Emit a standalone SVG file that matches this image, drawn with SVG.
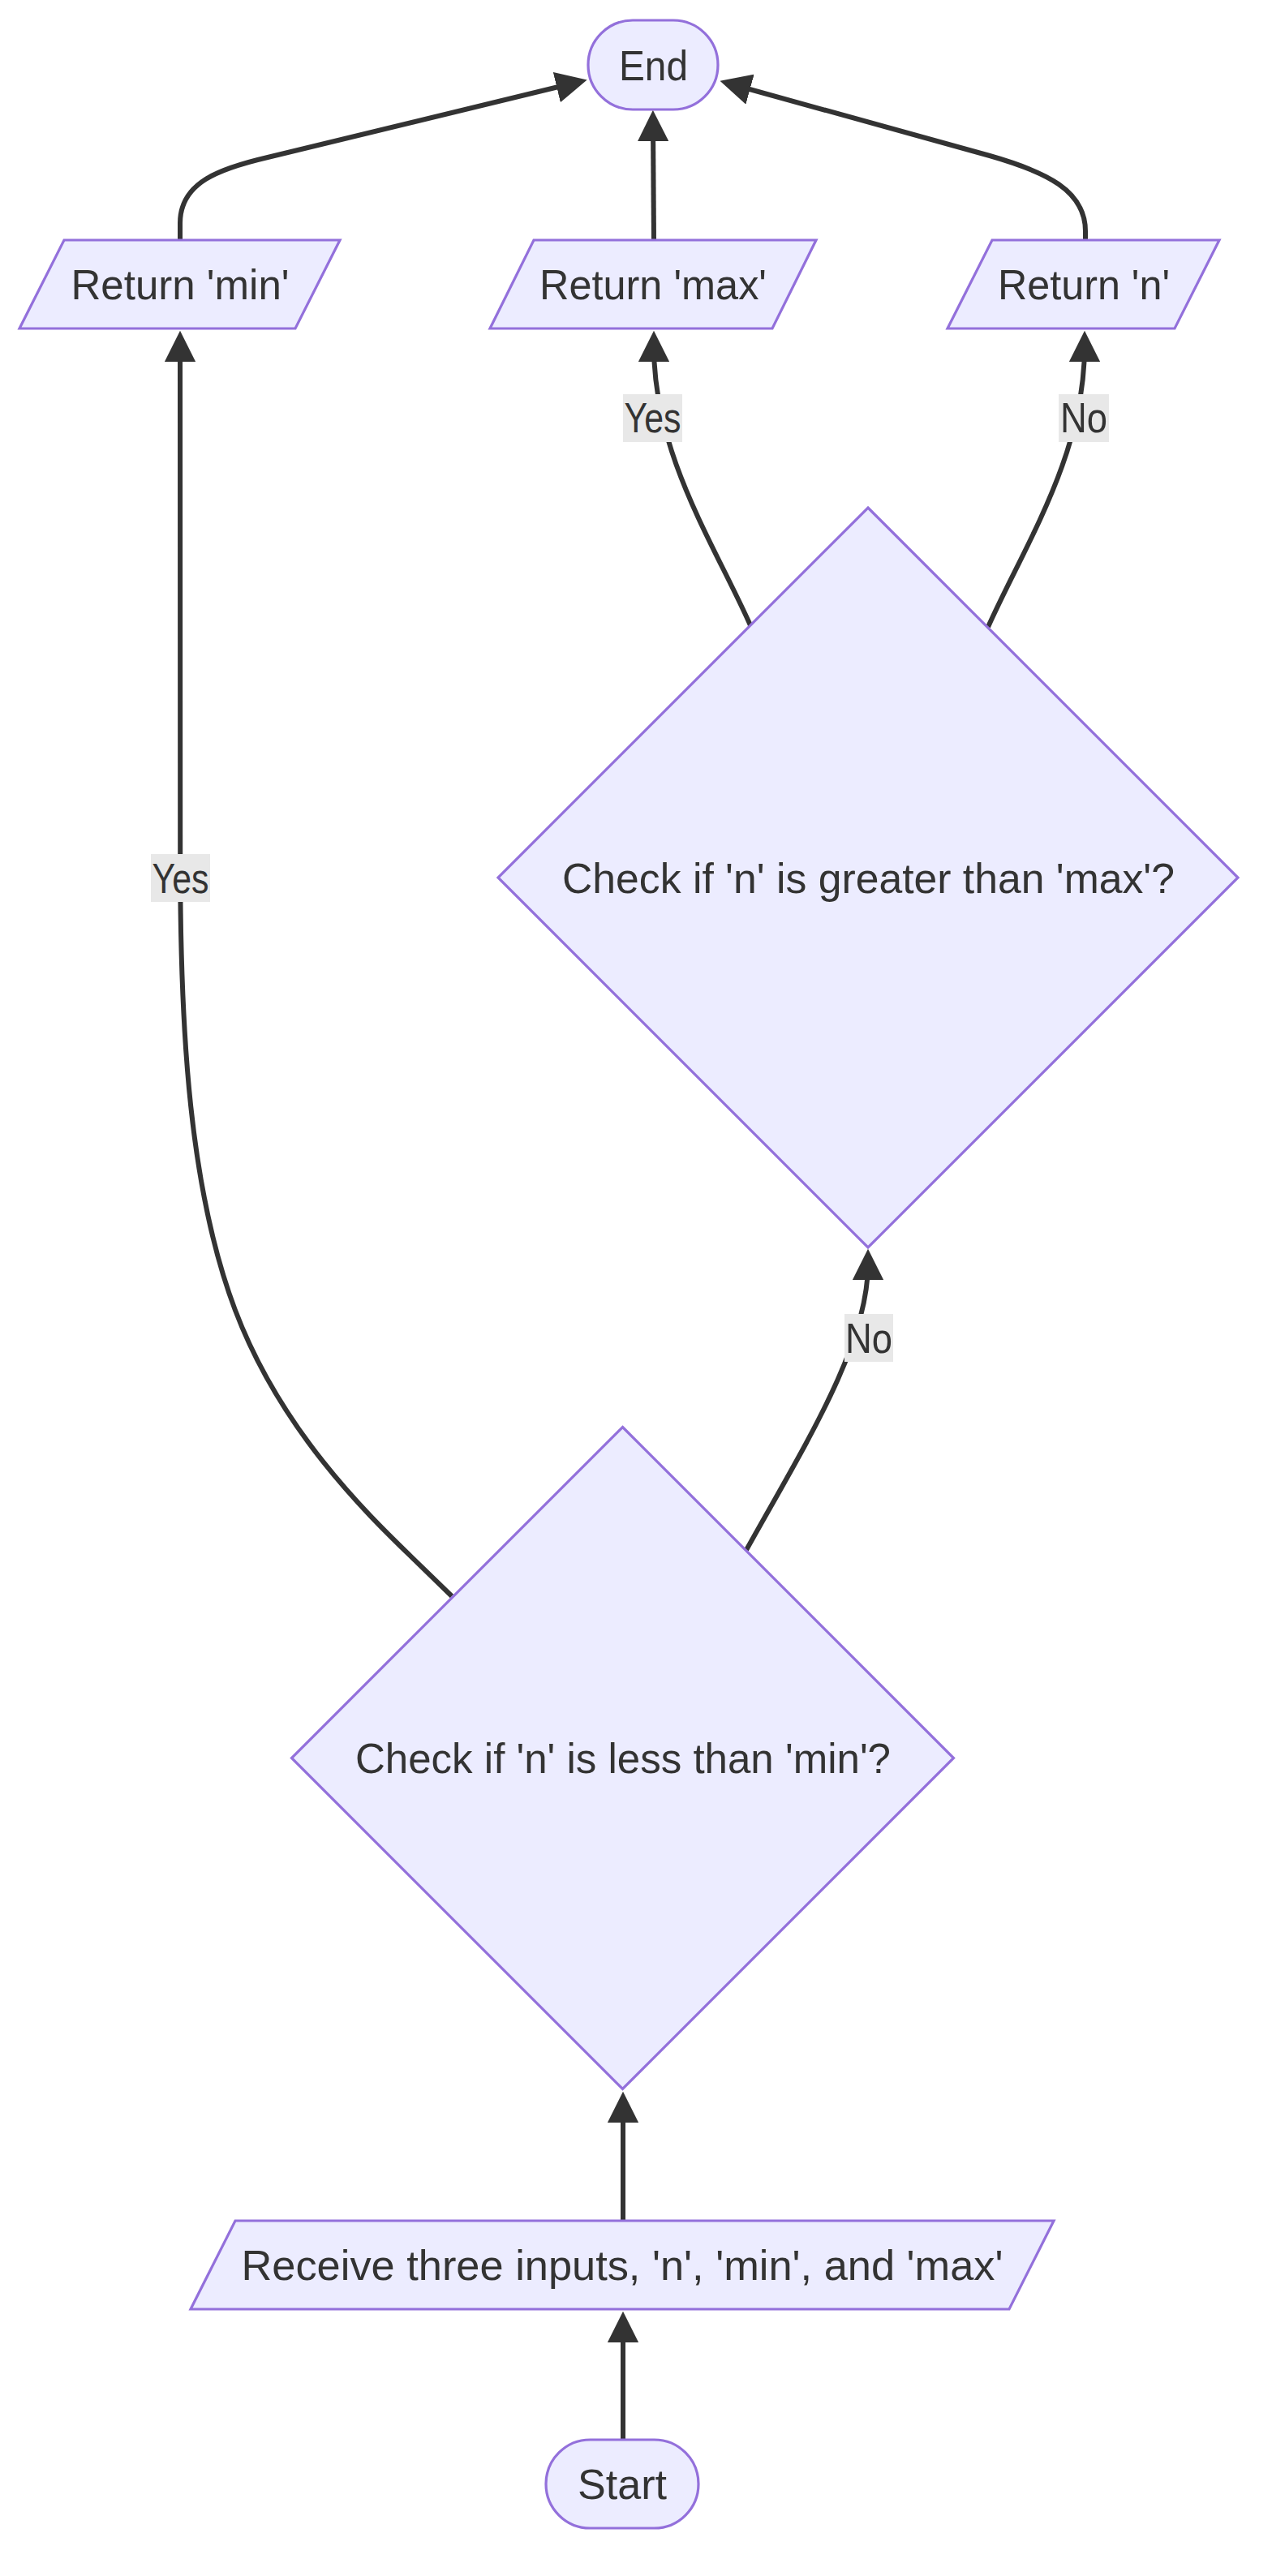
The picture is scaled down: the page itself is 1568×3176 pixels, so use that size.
<svg xmlns="http://www.w3.org/2000/svg" width="1568" height="3176" viewBox="0 0 1568 3176">
<style>
.node{fill:#ECECFF;stroke:#9370DB;stroke-width:3.2}
.edge{fill:none;stroke:#333333;stroke-width:6}
text{font-family:"Liberation Sans",Arial,sans-serif;font-size:51.2px;fill:#333333;text-anchor:middle}
.lbl{fill:#E8E8E8}
</style>
<defs>
<marker id="arrow" viewBox="0 0 10 10" refX="5" refY="5" markerWidth="38.4" markerHeight="38.4" markerUnits="userSpaceOnUse" orient="auto"><path d="M0,0 L10,5 L0,10 z" fill="#333333"/></marker>
</defs>
<rect x="0" y="0" width="1568" height="3176" fill="#FFFFFF"/>
<g id="connectors">
<path class="edge" marker-end="url(#arrow)" d="M768,3008 L768,2869"/>
<path class="edge" marker-end="url(#arrow)" d="M768,2738 L768,2598"/>
<path class="edge" marker-end="url(#arrow)" d="M557,1968 L504.2,1916.7 C451.3,1865.3 345.7,1762.7 289.8,1615 C234,1467.3 222.5,1274.7 222.2,1069 L222,427"/>
<path class="edge" marker-end="url(#arrow)" d="M920,1911 C990,1785 1070,1660 1070,1559"/>
<path class="edge" marker-end="url(#arrow)" d="M925,771 C880,670 806,560 806,427"/>
<path class="edge" marker-end="url(#arrow)" d="M1218,773 C1263,672 1337,562 1337,427"/>
<path class="edge" marker-end="url(#arrow)" d="M222,296 L222,275 C222,225 270,208 330,194 L705,103"/>
<path class="edge" marker-end="url(#arrow)" d="M806,296 L805,155"/>
<path class="edge" marker-end="url(#arrow)" d="M1338,296 L1338,285 C1338,235 1290,212 1220,192 L906,105"/>
<g id="label-yes-min"><rect class="lbl" x="186" y="1053" width="73" height="59"/><text x="222.5" y="1101" textLength="70" lengthAdjust="spacingAndGlyphs">Yes</text></g>
<g id="label-no-max"><rect class="lbl" x="1041" y="1620" width="60" height="59"/><text x="1071" y="1667.5" textLength="58" lengthAdjust="spacingAndGlyphs">No</text></g>
<g id="label-yes-max"><rect class="lbl" x="768" y="486" width="73" height="59"/><text x="804.5" y="533" textLength="70" lengthAdjust="spacingAndGlyphs">Yes</text></g>
<g id="label-no-n"><rect class="lbl" x="1305" y="486" width="62" height="59"/><text x="1336" y="533" textLength="58" lengthAdjust="spacingAndGlyphs">No</text></g>
</g>
<g id="start"><rect class="node" x="673" y="3008" width="188" height="109" rx="54.5" ry="54.5"/><text x="767" y="3081" textLength="110" lengthAdjust="spacingAndGlyphs">Start</text></g>
<g id="receive"><polygon class="node" points="290,2738 1299,2738 1244,2847 235,2847"/><text x="767" y="2811" textLength="939" lengthAdjust="spacingAndGlyphs">Receive three inputs, 'n', 'min', and 'max'</text></g>
<g id="check-min"><polygon class="node" points="767.5,1759.5 1175.5,2167.5 767.5,2575.5 359.5,2167.5"/><text x="768" y="2186" textLength="660" lengthAdjust="spacingAndGlyphs">Check if 'n' is less than 'min'?</text></g>
<g id="check-max"><polygon class="node" points="1070,626 1526,1082 1070,1538 614,1082"/><text x="1070.5" y="1100.5" textLength="755" lengthAdjust="spacingAndGlyphs">Check if 'n' is greater than 'max'?</text></g>
<g id="return-min"><polygon class="node" points="79,296 419,296 364,405 24,405"/><text x="222" y="369" textLength="269" lengthAdjust="spacingAndGlyphs">Return 'min'</text></g>
<g id="return-max"><polygon class="node" points="658,296 1006,296 952,405 604,405"/><text x="805" y="369" textLength="280" lengthAdjust="spacingAndGlyphs">Return 'max'</text></g>
<g id="return-n"><polygon class="node" points="1223,296 1503,296 1448,405 1168,405"/><text x="1336" y="369" textLength="212" lengthAdjust="spacingAndGlyphs">Return 'n'</text></g>
<g id="end"><rect class="node" x="725" y="25" width="160" height="110" rx="55" ry="55"/><text x="805.5" y="99" textLength="85" lengthAdjust="spacingAndGlyphs">End</text></g>
</svg>
